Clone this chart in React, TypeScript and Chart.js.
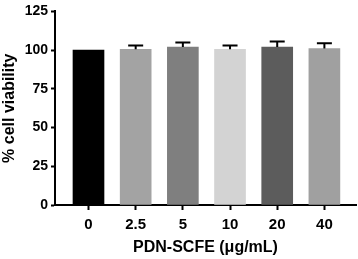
import React, { useEffect, useRef } from 'react';
import { Chart, registerables } from 'chart.js';

Chart.register(...registerables);

const categories = ['0', '2.5', '5', '10', '20', '40'];
const means = [100, 100.5, 102, 100.5, 102, 101];
const errors = [0, 2.5, 3, 2.5, 3.5, 3.5];
const barColors = ['#000000', '#a3a3a3', '#7f7f7f', '#d3d3d3', '#5c5c5c', '#a0a0a0'];
const yTicks = [0, 25, 50, 75, 100, 125];

const FONT = "'Liberation Sans', Arial, sans-serif";

const errorBarPlugin = {
  id: 'errorBars',
  afterDatasetsDraw(chart: any) {
    const { ctx, scales } = chart;
    const xs = scales.x;
    const ys = scales.y;
    ctx.save();
    ctx.strokeStyle = '#000';
    ctx.lineWidth = 2;
    means.forEach((m, i) => {
      if (!errors[i]) return;
      const x = xs.getPixelForValue(i);
      const yTop = ys.getPixelForValue(m + errors[i]);
      const yBar = ys.getPixelForValue(m);
      ctx.beginPath();
      ctx.moveTo(x, yBar);
      ctx.lineTo(x, yTop);
      ctx.moveTo(x - 7.5, yTop);
      ctx.lineTo(x + 7.5, yTop);
      ctx.stroke();
    });
    ctx.restore();
  },
};

export default function App() {
  const ref = useRef<HTMLCanvasElement>(null);
  useEffect(() => {
    if (!ref.current) return;
    const chart = new Chart(ref.current, {
      type: 'bar',
      data: {
        datasets: [
          {
            data: means.map((m, i) => ({ x: i, y: m })),
            backgroundColor: barColors,
            borderWidth: 0,
            barThickness: 31,
          },
        ],
      },
      options: {
        animation: false,
        responsive: false,
        maintainAspectRatio: false,
        layout: { padding: { top: 6, right: 2, left: 0, bottom: 0 } },
        plugins: { legend: { display: false }, tooltip: { enabled: false } },
        scales: {
          x: {
            type: 'linear',
            offset: false,
            min: -0.71,
            max: 5.67,
            afterBuildTicks: (scale: any) => {
              scale.ticks = categories.map((_, i) => ({ value: i }));
            },
            afterFit: (scale: any) => {
              scale.height = 54;
            },
            border: { display: true, color: '#000', width: 2 },
            grid: { display: true, offset: false, drawOnChartArea: false, drawTicks: true, tickLength: 5, tickWidth: 2, tickColor: '#000' },
            ticks: {
              autoSkip: false,
              maxRotation: 0,
              padding: 6,
              color: '#000',
              font: { family: FONT, size: 15, weight: 'bold' },
              callback: (v: any) => categories[v as number],
            },
            title: {
              display: true,
              text: 'PDN-SCFE (\u03bcg/mL)',
              color: '#000',
              font: { family: FONT, size: 16, weight: 'bold' },
              padding: { top: 0, bottom: 2 },
            },
          },
          y: {
            min: 0,
            max: 125,
            afterBuildTicks: (scale: any) => {
              scale.ticks = yTicks.map((v) => ({ value: v }));
            },
            afterFit: (scale: any) => {
              scale.width = 55;
            },
            border: { display: true, color: '#000', width: 2 },
            grid: { display: true, drawOnChartArea: false, drawTicks: true, tickLength: 4, tickWidth: 2, tickColor: '#000' },
            ticks: {
              padding: 3,
              color: '#000',
              font: { family: FONT, size: 14, weight: 'bold' },
            },
            title: {
              display: true,
              text: '% cell viability',
              color: '#000',
              font: { family: FONT, size: 16, weight: 'bold' },
              padding: { top: 0, bottom: 0 },
            },
          },
        },
      },
      plugins: [errorBarPlugin],
    } as any);
    return () => chart.destroy();
  }, []);
  return (
    <div style={{ position: 'fixed', left: 0, top: 0, width: 358, height: 259, background: '#fff' }}>
      <canvas ref={ref} width={358} height={259} style={{ width: 358, height: 259 }} />
    </div>
  );
}
